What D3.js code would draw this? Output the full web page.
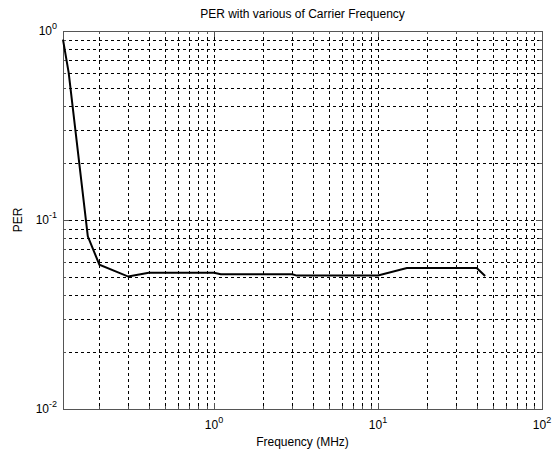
<!DOCTYPE html>
<html>
<head>
<meta charset="utf-8">
<script src="https://cdn.jsdelivr.net/npm/d3@7"></script>
<style>
  body { margin: 0; background: #fff; }
  text { font-family: "Liberation Sans", Arial, sans-serif; fill: #000; }
</style>
</head>
<body>
<svg id="chart" width="555" height="457"></svg>
<script>
  // data
  var freqMHz = [0.12, 0.13, 0.17, 0.2, 0.3, 0.4, 1.0, 1.1, 3.0, 3.2, 10, 15, 40, 45],
      perVals = [0.9, 0.6, 0.082, 0.058, 0.0502, 0.0526, 0.0526, 0.0516, 0.0516, 0.0508, 0.0508, 0.0557, 0.0557, 0.0505];

  var xMajorTicks = [1, 10, 100],
      yMajorTicks = [0.01, 0.1, 1],
      xLabels = [{base: '10', exp: '0'}, {base: '10', exp: '1'}, {base: '10', exp: '2'}],
      yLabels = [{base: '10', exp: '-2'}, {base: '10', exp: '-1'}, {base: '10', exp: '0'}];

  var chartTitle = 'PER with various of Carrier Frequency',
      xTitle = 'Frequency (MHz)',
      yTitle = 'PER';

(function() {

  var
    plotLeft = 63, plotRight = 542,
    plotTop = 31, plotBottom = 409;

  var svg = d3.select('#chart');

  var x = d3.scaleLog().domain([0.12, 100]).range([plotLeft, plotRight]),
      y = d3.scaleLog().domain([0.01, 1]).range([plotBottom, plotTop]);

  // minor tick positions for each decade
  var xMinor = [], yMinor = [];
  [0.1, 1, 10].forEach(function(d) {
    for (var k = 2; k <= 9; k++) {
      var v = +(d * k).toPrecision(3);
      if (v > 0.12 && v < 100) xMinor.push(v);
    }
  });
  [0.01, 0.1].forEach(function(d) {
    for (var k = 2; k <= 9; k++) yMinor.push(+(d * k).toPrecision(3));
  });

  var allX = xMinor.concat([1, 10]),
      allY = yMinor.concat([0.1]);

  // dashed grid
  var grid = svg.append('g').attr('class', 'grid')
    .attr('stroke', '#000').attr('stroke-width', 1)
    .attr('stroke-dasharray', '3,3').attr('shape-rendering', 'crispEdges');

  grid.selectAll('line.vx').data(allX).enter().append('line')
    .attr('x1', function(d) { return Math.round(x(d)) + 0.5; })
    .attr('x2', function(d) { return Math.round(x(d)) + 0.5; })
    .attr('y1', plotTop).attr('y2', plotBottom);

  grid.selectAll('line.hy').data(allY).enter().append('line')
    .attr('y1', function(d) { return Math.round(y(d)) + 0.5; })
    .attr('y2', function(d) { return Math.round(y(d)) + 0.5; })
    .attr('x1', plotLeft).attr('x2', plotRight);

  // tick marks (inside, all four sides)
  var ticks = svg.append('g').attr('stroke', '#555').attr('shape-rendering', 'crispEdges');
  xMajorTicks.concat(xMinor).forEach(function(v) {
    var len = xMajorTicks.indexOf(v) >= 0 ? 6 : 3,
        px = Math.round(x(v)) + 0.5;
    ticks.append('line').attr('x1', px).attr('x2', px).attr('y1', plotBottom).attr('y2', plotBottom - len);
    ticks.append('line').attr('x1', px).attr('x2', px).attr('y1', plotTop).attr('y2', plotTop + len);
  });
  yMajorTicks.concat(yMinor).forEach(function(v) {
    var len = yMajorTicks.indexOf(v) >= 0 ? 6 : 3,
        py = Math.round(y(v)) + 0.5;
    ticks.append('line').attr('y1', py).attr('y2', py).attr('x1', plotLeft).attr('x2', plotLeft + len);
    ticks.append('line').attr('y1', py).attr('y2', py).attr('x1', plotRight).attr('x2', plotRight - len);
  });

  // axes box
  svg.append('rect')
    .attr('x', plotLeft + 0.5).attr('y', plotTop + 0.5)
    .attr('width', plotRight - plotLeft).attr('height', plotBottom - plotTop)
    .attr('fill', 'none').attr('stroke', '#555').attr('stroke-width', 1)
    .attr('shape-rendering', 'crispEdges');

  // the data line
  var line = d3.line()
    .x(function(d, i) { return x(freqMHz[i]); })
    .y(function(d) { return y(d); });

  svg.append('path')
    .datum(perVals)
    .attr('d', line)
    .attr('fill', 'none')
    .attr('stroke', '#000')
    .attr('stroke-width', 2);

  // tick labels with superscripts
  svg.selectAll('text.xl').data(xMajorTicks).enter().append('text')
    .attr('x', function(d) { return x(d); })
    .attr('y', plotBottom + 20)
    .attr('text-anchor', 'middle')
    .attr('font-size', 12)
    .each(function(d, i) {
      var t = d3.select(this);
      t.append('tspan').text(xLabels[i].base);
      t.append('tspan').attr('dy', -6).attr('font-size', 9).text(xLabels[i].exp);
    });

  svg.selectAll('text.yl').data(yMajorTicks).enter().append('text')
    .attr('x', plotLeft - 6)
    .attr('y', function(d) { return y(d) + 4; })
    .attr('text-anchor', 'end')
    .attr('font-size', 12)
    .each(function(d, i) {
      var t = d3.select(this);
      t.append('tspan').text(yLabels[i].base);
      t.append('tspan').attr('dy', -6).attr('font-size', 9).text(yLabels[i].exp);
    });

  // titles
  svg.append('text')
    .attr('x', (plotLeft + plotRight) / 2).attr('y', 18)
    .attr('text-anchor', 'middle').attr('font-size', 12)
    .text(chartTitle);

  svg.append('text')
    .attr('x', (plotLeft + plotRight) / 2).attr('y', 446)
    .attr('text-anchor', 'middle').attr('font-size', 12)
    .text(xTitle);

  svg.append('text')
    .attr('transform', 'translate(22,' + ((plotTop + plotBottom) / 2) + ') rotate(-90)')
    .attr('text-anchor', 'middle').attr('font-size', 12)
    .text(yTitle);

})();
</script>
</body>
</html>
